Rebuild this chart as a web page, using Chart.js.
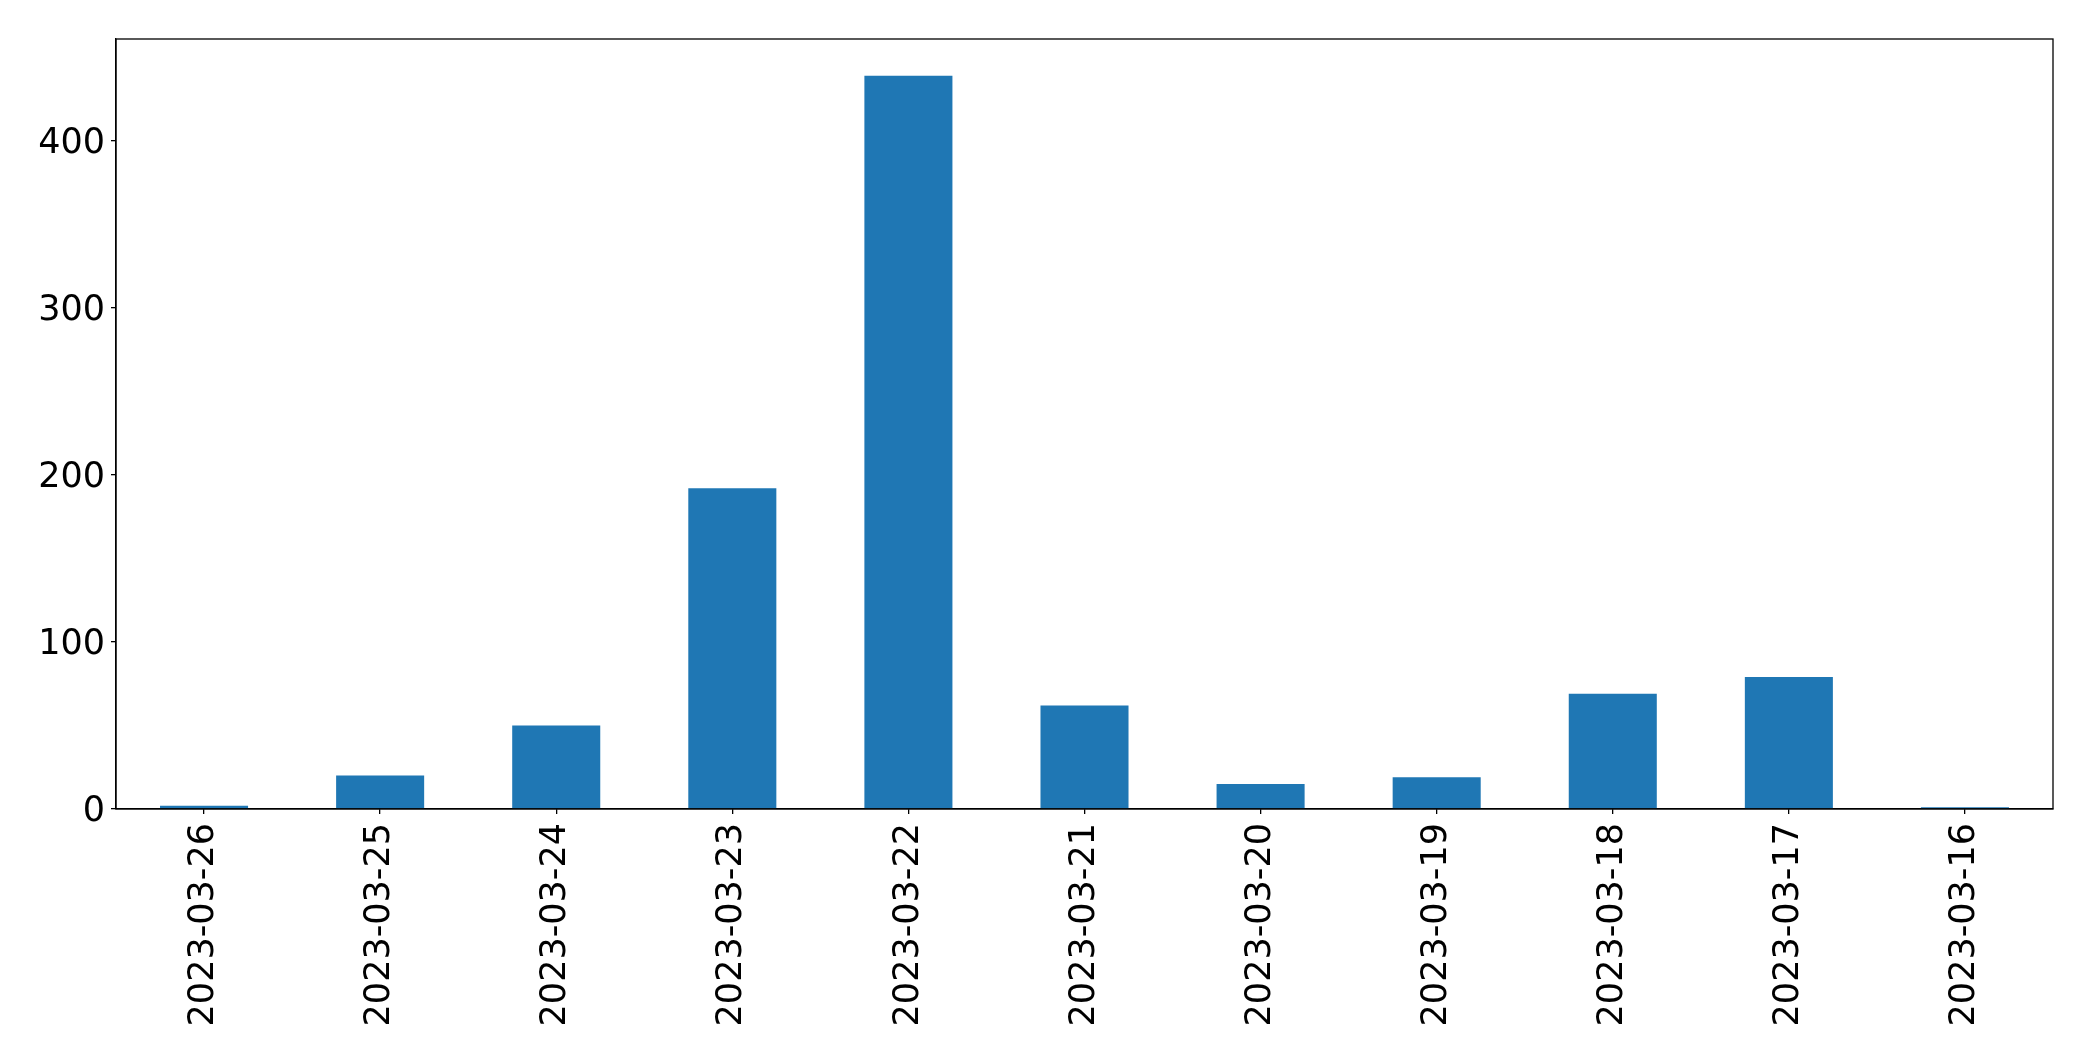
<!DOCTYPE html>
<html>
<head>
<meta charset="utf-8">
<script src="https://cdn.jsdelivr.net/npm/chart.js@4.4.0/dist/chart.umd.min.js"></script>
<style>
  html, body { margin: 0; padding: 0; background: #ffffff; }
  #wrap { width: 2093px; height: 1061px; position: relative; }
</style>
</head>
<body>
<div id="wrap"><canvas id="c" width="2093" height="1061"></canvas></div>
<script>
const categories = ["2023-03-26", "2023-03-25", "2023-03-24", "2023-03-23", "2023-03-22", "2023-03-21", "2023-03-20", "2023-03-19", "2023-03-18", "2023-03-17", "2023-03-16"];
const counts = [2, 20, 50, 192, 439, 62, 15, 19, 69, 79, 1];
const yTicks = [0, 100, 200, 300, 400];
const yMax = 461;

const frame = {
  id: 'frame',
  afterDraw(chart) {
    const a = chart.chartArea, ctx = chart.ctx;
    ctx.save();
    ctx.strokeStyle = '#000';
    ctx.lineWidth = 1.3;
    ctx.strokeRect(a.left, a.top, a.right - a.left, a.bottom - a.top);
    ctx.restore();
  }
};

new Chart(document.getElementById('c'), {
  type: 'bar',
  data: {
    labels: categories,
    datasets: [{
      data: counts,
      backgroundColor: '#1f77b4',
      borderWidth: 0,
      barPercentage: 0.5,
      categoryPercentage: 1.0
    }]
  },
  options: {
    responsive: false,
    animation: false,
    devicePixelRatio: 1,
    layout: { padding: { top: 39, right: 40, left: 0, bottom: 0 } },
    plugins: { legend: { display: false }, tooltip: { enabled: false } },
    scales: {
      x: {
        offset: true,
        grid: { display: true, drawOnChartArea: false, drawTicks: true, tickLength: 5, offset: false, color: '#000', lineWidth: 1.3 },
        border: { display: true, color: '#000', width: 1.3 },
        ticks: {
          minRotation: 90, maxRotation: 90, autoSkip: false, padding: 9,
          color: '#000', font: { family: 'DejaVu Sans', size: 35 }
        },
        afterFit(s) { s.height = 252; }
      },
      y: {
        min: 0, max: yMax,
        grid: { display: true, drawOnChartArea: false, drawTicks: true, tickLength: 5, color: '#000', lineWidth: 1.3 },
        border: { display: true, color: '#000', width: 1.3 },
        afterBuildTicks(s) { s.ticks = yTicks.map(v => ({ value: v })); },
        ticks: {
          includeBounds: false, padding: 6, labelOffset: 3,
          color: '#000', font: { family: 'DejaVu Sans', size: 35 }
        },
        afterFit(s) { s.width = 116; }
      }
    }
  },
  plugins: [frame]
});
</script>
</body>
</html>
